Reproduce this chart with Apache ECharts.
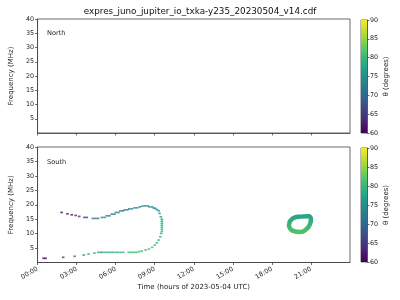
<!DOCTYPE html>
<html><head><meta charset="utf-8">
<script src="https://cdn.jsdelivr.net/npm/echarts@6/dist/echarts.min.js"></script>
<style>html,body{margin:0;padding:0;background:#fff}#c{width:400px;height:300px}</style>
</head><body><div id="c"></div>
<script>
const chartTitle = 'expres_juno_jupiter_io_txka-y235_20230504_v14.cdf';
const xTicks = [0, 3, 6, 9, 12, 15, 18, 21];
const yTicks = [5, 10, 15, 20, 25, 30, 35, 40];
const cbTicks = [60, 65, 70, 75, 80, 85, 90];
const panelNames = ['North', 'South'];

// North hemisphere: no emission
const northTime = [];
const northFreq = [];
const northTheta = [];

// South hemisphere: main arc (hours, MHz, theta deg)
const southTime = [
  0.47, 0.62, 1.97, 2.85, 3.55, 3.92, 4.37, 4.67,
  4.85, 5.0, 5.2, 5.4, 5.6, 5.8, 6.0, 6.2, 6.4, 6.6, 7.0, 7.2, 7.4, 7.6, 7.8,
  8.0, 8.3, 8.55, 8.8, 9.0, 9.17, 9.3, 9.43, 9.5,
  9.55, 9.55, 9.55, 9.55, 9.55, 9.55, 9.55,
  9.47, 9.37, 9.3, 9.17, 9.05, 8.93, 8.8, 8.6, 8.45, 8.25, 8.05, 7.85, 7.65, 7.45, 7.25, 7.05,
  6.9, 6.7, 6.55, 6.37, 6.22, 6.02, 5.9, 5.7, 5.52, 5.32, 5.15, 4.95,
  4.65, 4.45, 4.25, 3.78, 3.6, 3.2, 2.93, 2.63, 2.3, 1.85
];
const southFreq = [
  1.45, 1.45, 1.80, 2.14, 2.59, 2.94, 3.28, 3.52,
  3.52, 3.52, 3.52, 3.52, 3.52, 3.52, 3.52, 3.52, 3.52, 3.52, 3.52, 3.52, 3.52, 3.52, 3.75,
  3.97, 4.32, 4.66, 5.25, 6.05, 6.84, 7.77, 8.91, 10.09,
  10.8, 11.5, 12.2, 12.9, 13.6, 14.3, 15.0,
  15.82, 17.0, 17.89, 18.3, 18.72, 18.85, 19.27, 19.27, 19.62, 19.62, 19.5, 19.27, 18.93, 18.93, 18.58, 18.58,
  18.24, 18.24, 17.89, 17.89, 17.34, 17.34, 16.75, 16.75, 16.17, 16.17, 15.61, 15.61,
  15.27, 15.27, 15.27, 15.61, 15.61, 15.96, 16.3, 16.51, 16.86, 17.34
];
const southTheta = [
  61, 61, 65, 72, 76, 78, 79, 79,
  79, 79, 79, 79, 79, 79, 80, 80, 80, 80, 80, 80, 80, 80, 80,
  80, 81, 81, 81, 81, 80, 80, 80, 79,
  79, 79, 78, 78, 78, 77, 77,
  77, 76, 76, 75, 75, 75, 75, 74, 74, 74, 74, 74, 74, 74, 74, 73,
  73, 73, 73, 73, 73, 73, 73, 72, 72, 72, 73, 73,
  71, 71, 71, 66, 66, 64, 63, 62, 61, 61
];

// South hemisphere: closed loop near 20 h
const loopTime = [19.31, 19.58, 20.18, 20.78, 21.0, 20.93, 20.66, 20.18, 19.58, 19.35, 19.31];
const loopFreq = [13.30, 15.20, 15.89, 16.06, 14.85, 13.30, 11.57, 10.54, 11.05, 12.09, 13.30];
const loopThetaTop = 77;
const loopThetaBottom = 82;

const viridis = ['#440154','#482878','#3e4989','#31688e','#26828e','#1f9e89','#35b779','#6ece58','#b5de2b','#fde725'];
function hex(c){return [parseInt(c.substr(1,2),16),parseInt(c.substr(3,2),16),parseInt(c.substr(5,2),16)];}
function viridisAt(v){
  let t=(v-60)/30*(viridis.length-1); t=Math.max(0,Math.min(viridis.length-1,t));
  const i=Math.min(viridis.length-2,Math.floor(t)), f=t-i;
  const a=hex(viridis[i]), b=hex(viridis[i+1]);
  return 'rgb('+a.map((x,k)=>Math.round(x+(b[k]-x)*f)).join(',')+')';
}

const FONT = 'DejaVu Sans';
const TXT = '#222';
const TICKF = 6.4, NAMEF = 7, TITLEF = 8.8;
const chart = echarts.init(document.getElementById('c'), null, {renderer:'canvas'});

const gridL = 31.7, gridW = 318.3;
const grids = [
  {left: gridL, top: 19, width: gridW, height: 114},
  {left: gridL, top: 147, width: gridW, height: 115.5},
  {left: 361, top: 20, width: 6, height: 113},
  {left: 361, top: 148, width: 6, height: 114}
].map(g => Object.assign({show: true, borderColor: '#444', borderWidth: 0.8, backgroundColor: 'transparent'}, g));

function fmtHour(v){ return (v < 10 ? '0' : '') + v + ':00'; }

function mainX(idx, showLabels){
  return {
    type: 'value', gridIndex: idx, min: 0, max: 24,
    axisLine: {show: true, lineStyle: {color: '#444', width: 0.8}},
    axisTick: {show: true, customValues: xTicks, length: 2.5, inside: false, lineStyle: {color: '#444', width: 0.8}},
    axisLabel: {show: showLabels, customValues: xTicks, formatter: fmtHour, rotate: 30, fontSize: TICKF, fontFamily: FONT, color: TXT, margin: 6},
    splitLine: {show: false},
    name: showLabels ? 'Time (hours of 2023-05-04 UTC)' : '',
    nameLocation: 'middle', nameGap: 21,
    nameTextStyle: {fontSize: NAMEF, fontFamily: FONT, color: TXT}
  };
}
function mainY(idx){
  return {
    type: 'value', gridIndex: idx, min: 0, max: 40,
    axisLine: {show: true, lineStyle: {color: '#444', width: 0.8}},
    axisTick: {show: true, customValues: yTicks, length: 2.5, lineStyle: {color: '#444', width: 0.8}},
    axisLabel: {customValues: yTicks, fontSize: TICKF, fontFamily: FONT, color: TXT, margin: 3.5},
    splitLine: {show: false},
    name: 'Frequency (MHz)', nameLocation: 'middle', nameGap: 17,
    nameTextStyle: {fontSize: NAMEF, fontFamily: FONT, color: TXT}
  };
}
function cbX(idx){
  return {type: 'category', gridIndex: idx, data: [''], show: false, boundaryGap: true};
}
function cbY(idx){
  return {
    type: 'value', gridIndex: idx, min: 60, max: 90, interval: 5, position: 'right',
    axisLine: {show: true, lineStyle: {color: '#444', width: 0.8}},
    axisTick: {show: true, length: 2.5, lineStyle: {color: '#444', width: 0.8}},
    axisLabel: {fontSize: TICKF, fontFamily: FONT, color: TXT, margin: 3},
    splitLine: {show: false},
    name: 'θ (degrees)', nameLocation: 'middle', nameGap: 16, nameRotate: 90,
    nameTextStyle: {fontSize: NAMEF, fontFamily: FONT, color: TXT}
  };
}

const cbGradient = new echarts.graphic.LinearGradient(0, 1, 0, 0,
  viridis.map((c, i) => ({offset: i / (viridis.length - 1), color: c})));

function colorbarSeries(idx){
  return [
    {type: 'bar', xAxisIndex: idx, yAxisIndex: idx, stack: 'cb' + idx, data: [cbTicks[0]], barWidth: '100%',
     itemStyle: {color: 'transparent'}, silent: true, animation: false},
    {type: 'bar', xAxisIndex: idx, yAxisIndex: idx, stack: 'cb' + idx, data: [cbTicks[cbTicks.length-1] - cbTicks[0]], barWidth: '100%',
     itemStyle: {color: cbGradient}, silent: true, animation: false}
  ];
}

const northData = northTime.map((t, i) => [t, northFreq[i], northTheta[i]]);
const southData = southTime.map((t, i) => [t, southFreq[i], southTheta[i]]);
const loopData = loopTime.map((t, i) => [t, loopFreq[i]]);

const option = {
  animation: false,
  title: [
    {text: chartTitle, left: 'center', top: 2, textStyle: {fontSize: TITLEF, fontWeight: 'normal', fontFamily: FONT, color: '#111'}},
    {text: panelNames[0], left: 42, top: 25, textStyle: {fontSize: NAMEF * 0.95, fontWeight: 'normal', fontFamily: FONT, color: TXT}},
    {text: panelNames[1], left: 42, top: 154, textStyle: {fontSize: NAMEF * 0.95, fontWeight: 'normal', fontFamily: FONT, color: TXT}}
  ],
  grid: grids,
  xAxis: [mainX(0, false), mainX(1, true), cbX(2), cbX(3)],
  yAxis: [mainY(0), mainY(1), cbY(2), cbY(3)],
  visualMap: [{
    type: 'continuous', show: false, min: 60, max: 90, dimension: 2,
    seriesIndex: [0, 1], inRange: {color: viridis}
  }],
  series: [
    {type: 'scatter', xAxisIndex: 0, yAxisIndex: 0, data: northData, symbol: 'rect', symbolSize: [2.6, 1.7]},
    {type: 'scatter', xAxisIndex: 1, yAxisIndex: 1, data: southData, symbol: 'rect', symbolSize: [2.6, 1.7]},
    {type: 'line', xAxisIndex: 1, yAxisIndex: 1, data: loopData, smooth: 0.5, showSymbol: false,
     lineStyle: {width: 4.5, color: new echarts.graphic.LinearGradient(0, 0, 0, 1, [
       {offset: 0, color: viridisAt(loopThetaTop)}, {offset: 1, color: viridisAt(loopThetaBottom)}])}},
    ...colorbarSeries(2),
    ...colorbarSeries(3)
  ]
};
chart.setOption(option);
</script></body></html>
